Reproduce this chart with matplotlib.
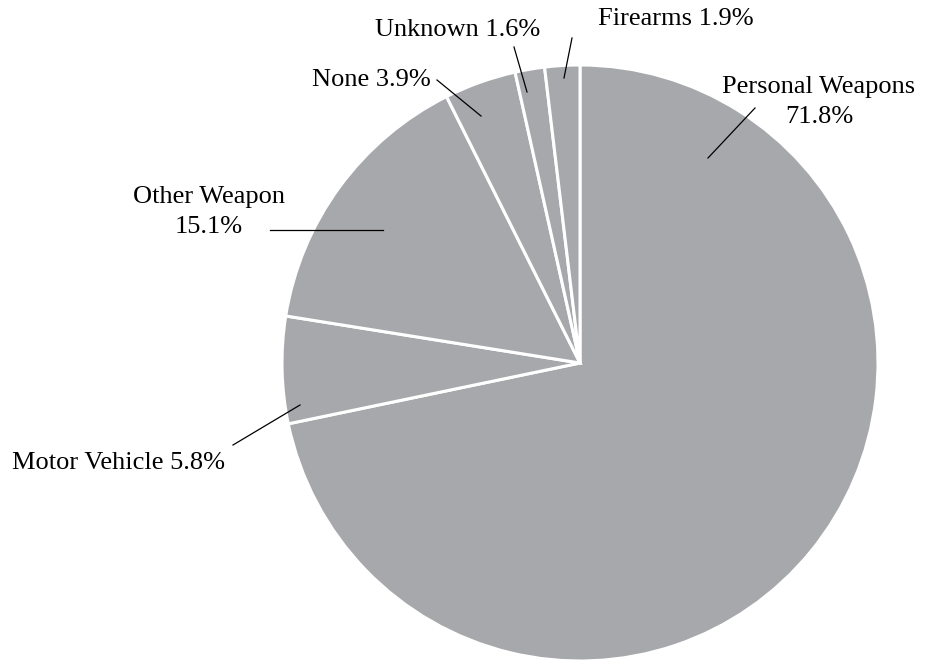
import matplotlib
matplotlib.use("Agg")
import matplotlib.pyplot as plt

categories = ["Personal Weapons", "Motor Vehicle", "Other Weapon", "None", "Unknown", "Firearms"]
values = [71.8, 5.8, 15.1, 3.9, 1.6, 1.9]
label_texts = ["Personal Weapons\n71.8%", "Motor Vehicle 5.8%", "Other Weapon\n15.1%",
               "None 3.9%", "Unknown 1.6%", "Firearms 1.9%"]

plt.rcParams['font.family'] = ['Liberation Serif', 'DejaVu Serif']

W, H = 933, 663
fig = plt.figure(figsize=(W / 100, H / 100), dpi=100)
ax = fig.add_axes([0, 0, 1, 1])

ax.pie(values, center=(580, H - 363), radius=298, startangle=90, counterclock=False,
       colors=['#A7A8AB'] * len(values),
       wedgeprops=dict(edgecolor='white', linewidth=2.2), frame=True)
ax.set_xlim(0, W)
ax.set_ylim(0, H)
ax.set_aspect('equal')
ax.axis('off')

fs = 19
# (text x, text y, ha, line start, line end) in pixel coords (y from top)
layout = [
    (819, 102, 'center', (755, 108), (708, 158)),
    (12, 463, 'left', (233, 445), (300, 405)),
    (209, 212, 'center', (270, 230), (383, 230)),
    (312, 80, 'left', (437, 80), (481, 116)),
    (375, 30, 'left', (514, 47), (527, 92)),
    (598, 19, 'left', (572, 38), (564, 78)),
]
for txt, (tx, ty, ha, p0, p1) in zip(label_texts, layout):
    ax.text(tx, H - ty, txt, ha=ha, va='center', multialignment='center',
            fontsize=fs, linespacing=1.45)
    ax.plot([p0[0], p1[0]], [H - p0[1], H - p1[1]], color='black', lw=0.9)

fig.savefig("out.png", dpi=100)
